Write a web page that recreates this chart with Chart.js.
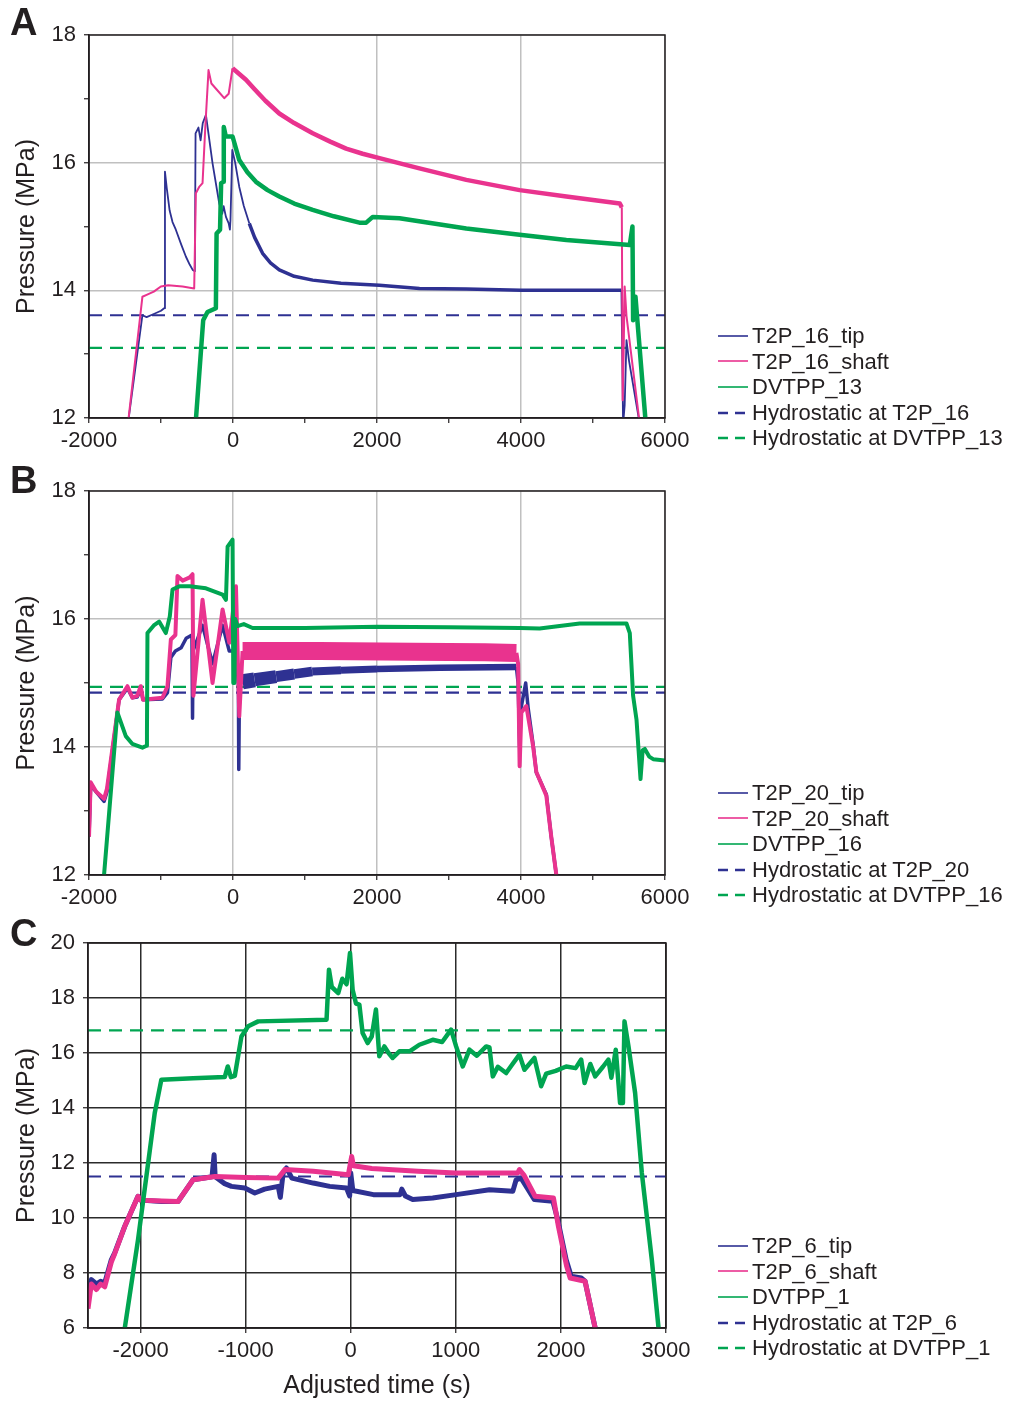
<!DOCTYPE html>
<html>
<head>
<meta charset="utf-8">
<script src="https://cdn.jsdelivr.net/npm/chart.js@4.4.1/dist/chart.umd.min.js"></script>
<style>
  body { margin: 0; background: #fff; }
  #page { position: relative; width: 1010px; height: 1401px; font-family: "Liberation Sans", Arial, sans-serif; color: #231f20; }
  canvas { position: absolute; left: 0; top: 0; }
  .panel { position: absolute; left: 10px; font-weight: bold; font-size: 38px; line-height: 38px; }
  .legend { position: absolute; left: 718px; font-size: 22px; }
  .row { height: 25.6px; line-height: 25.6px; display: flex; align-items: center; white-space: nowrap; }
  .row svg { margin-right: 4px; flex: none; }
</style>
</head>
<body>
<div id="page">
  <canvas id="chartA" width="1010" height="1401"></canvas>
  <canvas id="chartB" width="1010" height="1401"></canvas>
  <canvas id="chartC" width="1010" height="1401"></canvas>
  <div class="panel" style="top:3px">A</div>
  <div class="panel" style="top:461px">B</div>
  <div class="panel" style="top:914px">C</div>
  <div class="legend" id="legendA" style="top:323px"></div>
  <div class="legend" id="legendB" style="top:780px"></div>
  <div class="legend" id="legendC" style="top:1233px"></div>
</div>
<script>
// ---------------------------------------------
//  Dados: [tempo ajustado (s), pressão (MPa)]
// ---------------------------------------------

// Painel A
const aTip = [
  [-1460, 11.9], [-1258, 13.61], [-1200, 13.58], [-1100, 13.63], [-1000, 13.68], [-956, 13.72],
  [-945, 15.86], [-920, 15.6], [-880, 15.25], [-840, 15.07], [-794, 14.95], [-720, 14.72],
  [-655, 14.53], [-600, 14.4], [-560, 14.32], [-530, 14.3],
  [-520, 16.46], [-480, 16.55], [-450, 16.35], [-420, 16.62], [-376, 16.75], [-340, 16.45],
  [-284, 15.99], [-191, 15.36], [-150, 15.2], [-130, 15.32], [-98, 15.15], [-60, 15.05],
  [-43, 14.95], [-35, 15.1], [-10, 16.2], [30, 16.0], [87, 15.62], [150, 15.32], [226, 15.05],
  [300, 14.83], [411, 14.58], [520, 14.43], [643, 14.32], [850, 14.22], [1107, 14.16],
  [1500, 14.11], [2034, 14.08], [2590, 14.03], [3240, 14.02], [4000, 14.0],
  [5395, 14.0], [5418, 11.9], [5440, 12.2], [5465, 13.22], [5500, 12.9], [5650, 11.9]
];
const aShaft = [
  [-1460, 11.9], [-1258, 13.9], [-1200, 13.93], [-1100, 13.98], [-1002, 14.06], [-900, 14.08],
  [-700, 14.06], [-539, 14.03], [-516, 15.52], [-470, 15.62], [-423, 15.68], [-385, 16.55],
  [-340, 17.45], [-300, 17.24], [-230, 17.15], [-122, 17.01], [-60, 17.08], [-6, 17.48],
  [180, 17.3], [300, 17.15], [450, 16.97], [643, 16.77], [850, 16.62], [1107, 16.46],
  [1350, 16.33], [1571, 16.22], [1800, 16.14], [2034, 16.07], [2590, 15.91],
  [3240, 15.73], [3981, 15.57], [4630, 15.47], [5372, 15.36], [5400, 15.3], [5412, 12.28],
  [5425, 13.0], [5440, 14.06], [5465, 13.6], [5650, 11.9]
];
const aDvtpp = [
  [-520, 11.9], [-414, 13.53], [-354, 13.66], [-238, 13.72], [-228, 14.89], [-180, 14.95],
  [-165, 15.68], [-135, 15.7], [-128, 16.56], [-100, 16.41], [-6, 16.41], [87, 16.04],
  [200, 15.85], [319, 15.7], [480, 15.57], [643, 15.47], [850, 15.36], [1107, 15.26],
  [1400, 15.16], [1756, 15.06], [1850, 15.06], [1941, 15.15],
  [2312, 15.13], [3240, 14.97], [3981, 14.87], [4630, 14.79], [5511, 14.71], [5548, 15.0],
  [5557, 13.53], [5590, 13.9], [5627, 13.38], [5734, 11.9]
];
const aHydroTip = 13.61;
const aHydroDvtpp = 13.10;

// Painel B
const bTip = [
  [-2000, 12.6], [-1977, 13.4], [-1900, 13.3], [-1791, 13.15], [-1750, 13.3], [-1582, 14.74],
  [-1466, 14.92], [-1397, 14.77], [-1330, 14.78], [-1281, 14.9], [-1250, 14.74], [-980, 14.75],
  [-910, 14.85], [-863, 15.4], [-800, 15.5], [-720, 15.55], [-650, 15.7], [-570, 15.75],
  [-562, 14.45], [-555, 15.5], [-423, 15.9], [-284, 15.3], [-145, 15.9], [-52, 15.5],
  [40, 15.5], [75, 15.0], [80, 13.65], [90, 15.0], [133, 15.02], [300, 15.05], [600, 15.1],
  [850, 15.14], [1100, 15.18], [1500, 15.2], [2000, 15.22], [2870, 15.24], [3936, 15.25],
  [3960, 15.0], [3981, 14.0], [4000, 14.6], [4065, 15.0], [4100, 14.6], [4167, 14.05],
  [4213, 13.6], [4352, 13.26], [4420, 12.6], [4491, 12.0]
];
const bShaft = [
  [-2000, 12.6], [-1977, 13.45], [-1900, 13.3], [-1791, 13.19], [-1750, 13.35], [-1582, 14.74],
  [-1466, 14.95], [-1397, 14.77], [-1330, 14.8], [-1281, 14.95], [-1250, 14.74], [-980, 14.77],
  [-910, 14.95], [-863, 15.68], [-800, 15.75], [-771, 16.67], [-700, 16.6], [-600, 16.65],
  [-562, 16.7], [-550, 14.8], [-423, 16.3], [-284, 15.0], [-145, 16.15], [-52, 15.63],
  [41, 16.51], [87, 14.48], [133, 15.5], [400, 15.5], [1200, 15.5], [2500, 15.49],
  [3500, 15.48], [3936, 15.47], [3960, 15.3], [3981, 13.7], [4005, 14.54], [4074, 14.64],
  [4167, 14.02], [4213, 13.61], [4352, 13.24], [4420, 12.6], [4491, 12.0]
];
const bDvtpp = [
  [-1791, 12.0], [-1606, 14.54], [-1489, 14.17], [-1400, 14.05], [-1258, 13.99], [-1200, 14.02],
  [-1195, 14.2], [-1188, 15.78], [-1100, 15.9], [-1026, 15.96], [-933, 15.78], [-878, 16.04],
  [-840, 16.46], [-747, 16.51], [-600, 16.51], [-376, 16.48], [-145, 16.38], [-98, 16.3],
  [-75, 17.13], [-6, 17.24], [4, 15.0], [20, 15.0], [30, 16.0], [63, 15.89], [150, 15.92],
  [272, 15.86], [1000, 15.86], [2000, 15.88], [3000, 15.87], [3981, 15.86], [4259, 15.85],
  [4815, 15.93], [5465, 15.93], [5511, 15.78], [5557, 14.8], [5604, 14.43], [5660, 13.5],
  [5690, 13.95], [5720, 13.97], [5780, 13.85], [5836, 13.81], [6000, 13.79]
];
const bHydroTip = 14.85;
const bHydroDvtpp = 14.94;

// Painel C
const cTip = [
  [-2500, 7.2], [-2468, 7.76], [-2420, 7.6], [-2380, 7.7], [-2341, 7.64], [-2278, 8.48],
  [-2246, 8.73], [-2150, 9.7], [-2024, 10.79], [-2000, 10.65], [-1800, 10.6], [-1643, 10.6],
  [-1500, 11.39], [-1320, 11.5], [-1300, 12.3], [-1290, 11.5], [-1200, 11.25], [-1135, 11.15],
  [-1008, 11.09], [-913, 10.91], [-820, 11.05], [-690, 11.15], [-670, 10.75], [-643, 11.64],
  [-611, 11.82], [-560, 11.45], [-357, 11.27], [-200, 11.15], [-40, 11.09], [-10, 10.8],
  [0, 11.64], [20, 11.0], [216, 10.85], [470, 10.85], [486, 11.05], [520, 10.8], [590, 10.67],
  [780, 10.73], [1003, 10.85], [1320, 11.03], [1542, 10.97], [1574, 11.39], [1621, 11.45],
  [1748, 10.67], [1923, 10.61], [1970, 9.94], [2050, 8.48], [2098, 7.88], [2193, 7.82],
  [2230, 7.7], [2326, 6.0]
];
const cShaft = [
  [-2500, 6.7], [-2468, 7.6], [-2420, 7.4], [-2380, 7.6], [-2341, 7.5], [-2278, 8.4],
  [-2246, 8.7], [-2150, 9.7], [-2024, 10.79], [-2000, 10.65], [-1800, 10.62], [-1643, 10.6],
  [-1500, 11.39], [-1294, 11.51], [-1000, 11.47], [-690, 11.45], [-627, 11.76], [-357, 11.7],
  [-23, 11.57], [9, 12.24], [25, 11.9], [200, 11.8], [641, 11.7], [1003, 11.64], [1590, 11.64],
  [1605, 11.76], [1650, 11.55], [1754, 10.79], [1929, 10.73], [1976, 9.7], [2055, 8.24],
  [2088, 7.82], [2230, 7.7], [2326, 6.0]
];
const cDvtpp = [
  [-2150, 6.0], [-2024, 9.21], [-1865, 13.82], [-1802, 15.03], [-1500, 15.08], [-1198, 15.13],
  [-1170, 15.51], [-1140, 15.12], [-1103, 15.17], [-1040, 16.6], [-976, 16.97], [-881, 17.15],
  [-230, 17.21], [-207, 19.03], [-180, 18.4], [-119, 18.18], [-80, 18.7], [-40, 18.5],
  [-7, 19.64], [18, 18.3], [50, 17.8], [82, 17.76], [113, 16.73], [161, 16.36], [200, 16.6],
  [240, 17.58], [272, 15.88], [320, 16.24], [360, 16.0], [399, 15.82], [463, 16.06],
  [560, 16.06], [653, 16.3], [780, 16.48], [870, 16.4], [955, 16.85], [1003, 16.24],
  [1066, 15.51], [1130, 16.12], [1200, 15.9], [1289, 16.24], [1320, 16.2], [1352, 15.15],
  [1400, 15.5], [1479, 15.27], [1540, 15.6], [1605, 15.94], [1653, 15.39], [1748, 15.82],
  [1812, 14.79], [1860, 15.25], [1950, 15.35], [2050, 15.51], [2140, 15.45], [2193, 15.76],
  [2225, 14.91], [2280, 15.6], [2326, 15.15], [2400, 15.5], [2452, 15.76], [2480, 15.1],
  [2522, 16.12], [2563, 14.18], [2590, 14.18], [2605, 17.15], [2643, 16.24], [2706, 14.55],
  [2770, 11.64], [2865, 8.48], [2929, 6.0]
];
const cHydroTip = 11.51;
const cHydroDvtpp = 16.82;

// Marcas do eixo x do painel C (a escala começa em -2500, sem rótulo)
const cXTicks = [-2000, -1000, 0, 1000, 2000, 3000];

// Rótulos da legenda
const legendA = ["T2P_16_tip", "T2P_16_shaft", "DVTPP_13", "Hydrostatic at T2P_16", "Hydrostatic at DVTPP_13"];
const legendB = ["T2P_20_tip", "T2P_20_shaft", "DVTPP_16", "Hydrostatic at T2P_20", "Hydrostatic at DVTPP_16"];
const legendC = ["T2P_6_tip", "T2P_6_shaft", "DVTPP_1", "Hydrostatic at T2P_6", "Hydrostatic at DVTPP_1"];

// ---------------------------------------------
//  Estilo
// ---------------------------------------------
const AZUL  = "#2e3192";
const ROSA  = "#e9338e";
const VERDE = "#00a551";
const TINTA = "#231f20";
const FONTE = "'Liberation Sans', Arial, sans-serif";
const TRANSP = "rgba(0,0,0,0)";

const pts = pares => pares.map(([x, y]) => ({ x, y }));
const nivel = (p, x0, x1) => [{ x: x0, y: p }, { x: x1, y: p }];

// moldura completa em volta da área do gráfico
const moldura = {
  id: "moldura",
  afterDraw(chart) {
    const { ctx, chartArea: a } = chart;
    ctx.save();
    ctx.strokeStyle = TINTA;
    ctx.lineWidth = 1.5;
    ctx.strokeRect(a.left, a.top, a.right - a.left, a.bottom - a.top);
    ctx.restore();
  },
};

function linha(dados, cor, largura, ordem, larguraFn) {
  const ds = {
    data: pts(dados),
    borderColor: cor,
    borderWidth: largura,
    borderJoinStyle: "round",
    pointRadius: 0,
    tension: 0,
    order: ordem,
  };
  if (larguraFn) ds.segment = { borderWidth: c => larguraFn(c.p0.parsed.x) };
  return ds;
}

function tracejada(p, x0, x1, cor) {
  return {
    data: nivel(p, x0, x1),
    borderColor: cor,
    borderWidth: 2.2,
    borderDash: [13, 8],
    pointRadius: 0,
    order: 9,
  };
}

function criarPainel(id, p) {
  const H = 1401;
  new Chart(document.getElementById(id), {
    type: "line",
    data: { datasets: p.datasets },
    plugins: [moldura],
    options: {
      responsive: false,
      animation: false,
      events: [],
      layout: { padding: { left: 0, right: 1010 - p.right, top: p.top, bottom: H - p.bottom - p.xH } },
      plugins: { legend: { display: false }, tooltip: { enabled: false } },
      scales: {
        x: {
          type: "linear",
          min: p.xMin, max: p.xMax,
          afterBuildTicks: s => { if (p.xTicks) s.ticks = p.xTicks.map(value => ({ value })); },
          afterFit: s => { s.height = p.xH; },
          border: { display: true, color: TINTA, width: 1.5 },
          grid: {
            color: c => (c.tick && p.xGrid(c.tick.value)) ? p.gridColor : TRANSP,
            lineWidth: 1.5,
            tickColor: TINTA, tickLength: 5, tickWidth: 1.2,
          },
          ticks: {
            stepSize: p.xStep, autoSkip: false, maxRotation: 0,
            padding: 5, color: TINTA,
            font: { size: 22, family: FONTE },
            callback: v => p.xLabel(v) ? String(v) : "",
          },
          title: p.xTitle
            ? { display: true, text: p.xTitle, color: TINTA, font: { size: 25, family: FONTE }, padding: { top: 0, bottom: 0 } }
            : { display: false },
        },
        y: {
          min: p.yMin, max: p.yMax,
          afterFit: s => { s.width = p.left; },
          border: { display: true, color: TINTA, width: 1.5 },
          grid: {
            color: c => (c.tick && p.yGrid(c.tick.value)) ? p.gridColor : TRANSP,
            lineWidth: 1.5,
            tickColor: TINTA, tickLength: 5, tickWidth: 1.2,
          },
          ticks: {
            stepSize: p.yStep, autoSkip: false, padding: 8, color: TINTA,
            font: { size: 22, family: FONTE },
            callback: v => p.yLabel(v) ? String(v) : "",
          },
          title: {
            display: true, text: "Pressure (MPa)", color: TINTA,
            font: { size: 25, family: FONTE }, padding: { top: 12, bottom: 0 },
          },
        },
      },
    },
  });
}

// ---------------------------------------------
//  Painéis
// ---------------------------------------------
const CINZA = "#c0c0c0";

criarPainel("chartA", {
  left: 89, right: 665, top: 35, bottom: 418, xH: 42,
  xMin: -2000, xMax: 6000, xStep: 1000, yMin: 12, yMax: 18, yStep: 1,
  gridColor: CINZA,
  xGrid: v => v % 2000 === 0, xLabel: v => v % 2000 === 0,
  yGrid: v => v % 2 === 0, yLabel: v => v % 2 === 0,
  datasets: [
    linha(aDvtpp, VERDE, 4.5, 1),
    linha(aShaft, ROSA, 2, 2, x => (x >= -6 && x < 5400) ? 4.5 : 2),
    linha(aTip, AZUL, 1.8, 3, x => (x >= 200 && x < 5395) ? 3.5 : 1.8),
    tracejada(aHydroTip, -2000, 6000, AZUL),
    tracejada(aHydroDvtpp, -2000, 6000, VERDE),
  ],
});

// faixa de ruído do sensor de ponta no painel B (largura do traço por trecho)
function faixaTipB(x) {
  if (x < 133 || x >= 3936) return 3.5;
  if (x < 300) return 15;
  if (x < 600) return 13;
  if (x < 850) return 11;
  if (x < 1100) return 9.5;
  if (x < 1500) return 8;
  if (x < 2000) return 7;
  return 6.5;
}

criarPainel("chartB", {
  left: 89, right: 665, top: 491, bottom: 875, xH: 42,
  xMin: -2000, xMax: 6000, xStep: 1000, yMin: 12, yMax: 18, yStep: 1,
  gridColor: CINZA,
  xGrid: v => v % 2000 === 0, xLabel: v => v % 2000 === 0,
  yGrid: v => v % 2 === 0, yLabel: v => v % 2 === 0,
  datasets: [
    linha(bDvtpp, VERDE, 4, 1),
    linha(bShaft, ROSA, 4, 2, x => (x >= 133 && x < 3936) ? 18 : 4),
    linha(bTip, AZUL, 3.5, 3, faixaTipB),
    tracejada(bHydroTip, -2000, 6000, AZUL),
    tracejada(bHydroDvtpp, -2000, 6000, VERDE),
  ],
});

criarPainel("chartC", {
  left: 88, right: 666, top: 943, bottom: 1328, xH: 73,
  xMin: -2500, xMax: 3000, xStep: 1000, xTicks: cXTicks, yMin: 6, yMax: 20, yStep: 2,
  gridColor: "#2b2b2b", xTitle: "Adjusted time (s)",
  xGrid: () => true, xLabel: () => true,
  yGrid: () => true, yLabel: () => true,
  datasets: [
    linha(cDvtpp, VERDE, 4.5, 1),
    linha(cShaft, ROSA, 5, 2),
    linha(cTip, AZUL, 5, 3),
    tracejada(cHydroTip, -2500, 3000, AZUL),
    tracejada(cHydroDvtpp, -2500, 3000, VERDE),
  ],
});

// ---------------------------------------------
//  Legendas (HTML, texto real)
// ---------------------------------------------
function montarLegenda(id, rotulos) {
  const estilos = [
    { cor: AZUL, dash: false }, { cor: ROSA, dash: false }, { cor: VERDE, dash: false },
    { cor: AZUL, dash: true }, { cor: VERDE, dash: true },
  ];
  const el = document.getElementById(id);
  el.innerHTML = rotulos.map((txt, i) => {
    const e = estilos[i];
    const traco = e.dash
      ? `<line x1="0" y1="5" x2="28" y2="5" stroke="${e.cor}" stroke-width="2.6" stroke-dasharray="10 7"/>`
      : `<line x1="0" y1="5" x2="30" y2="5" stroke="${e.cor}" stroke-width="1.6"/>`;
    return `<div class="row"><svg width="30" height="10">${traco}</svg><span>${txt}</span></div>`;
  }).join("");
}

montarLegenda("legendA", legendA);
montarLegenda("legendB", legendB);
montarLegenda("legendC", legendC);
</script>
</body>
</html>
